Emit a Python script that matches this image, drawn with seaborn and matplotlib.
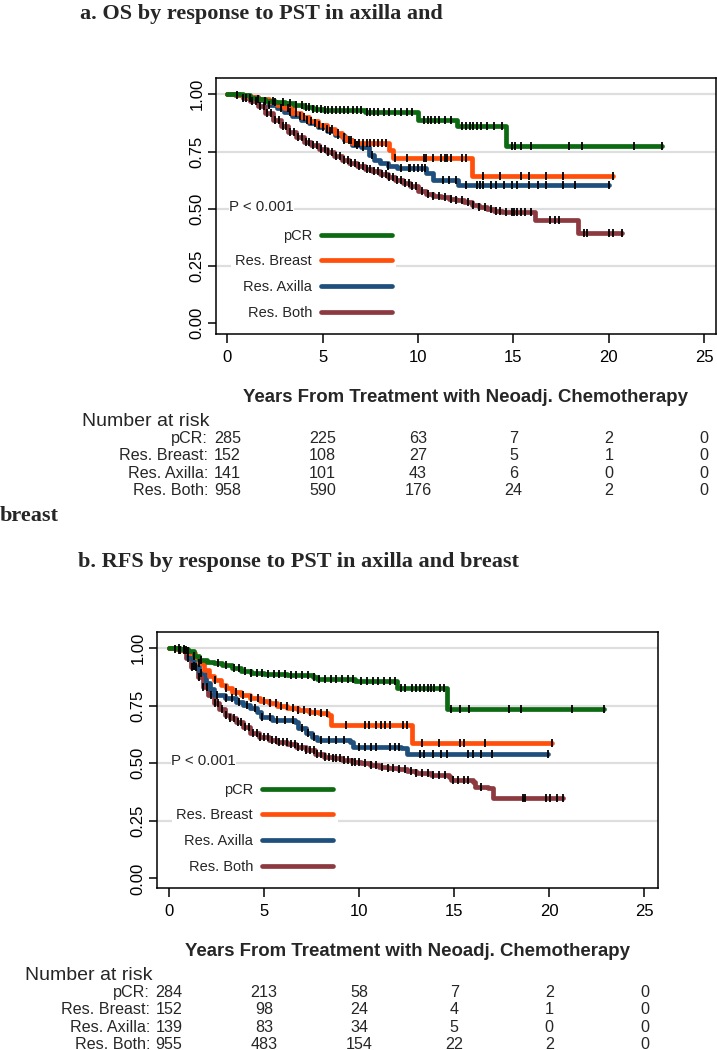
import numpy as np
import pandas as pd
import matplotlib
matplotlib.use("Agg")
import matplotlib.pyplot as plt
import seaborn as sns

groups = ["pCR", "Res. Breast", "Res. Axilla", "Res. Both"]
colors = ["#0b6a12", "#ff4f0a", "#1f4f7c", "#8c3a40"]
risk_years = [0, 5, 10, 15, 20, 25]

# ---- a. overall survival: step points (time, survival after step) ----
os_pcr_t = [0, 0.8, 1.2, 1.6, 2.0, 2.5, 3.0, 3.5, 4.0, 4.5, 5.0, 6.0, 7.2, 10.0, 12.05, 14.6, 22.8]
os_pcr_s = [1.0, 0.995, 0.985, 0.978, 0.972, 0.966, 0.96, 0.953, 0.945, 0.938, 0.933, 0.93, 0.925, 0.89, 0.86, 0.775, 0.775]
os_brs_t = [0, 0.6, 1.1, 1.6, 2.2, 2.6, 2.95, 3.4, 3.85, 4.3, 4.75, 5.2, 5.66, 6.0, 6.2, 6.56, 8.45, 8.7, 12.8, 20.2]
os_brs_s = [1.0, 0.995, 0.99, 0.98, 0.968, 0.955, 0.939, 0.92, 0.902, 0.884, 0.866, 0.848, 0.83, 0.812, 0.80, 0.789, 0.755, 0.72, 0.645, 0.645]
os_axl_t = [0, 0.6, 1.1, 1.6, 2.2, 2.6, 2.95, 3.4, 3.85, 4.3, 4.75, 5.2, 5.66, 6.1, 6.56, 7.0, 7.4, 7.7, 8.0, 8.4, 8.9, 10.44, 10.8, 12.07, 20.0]
os_axl_s = [1.0, 0.995, 0.988, 0.975, 0.955, 0.94, 0.924, 0.905, 0.888, 0.873, 0.859, 0.84, 0.822, 0.80, 0.779, 0.77, 0.735, 0.715, 0.699, 0.688, 0.677, 0.655, 0.626, 0.606, 0.606]
os_both_t = [0, 0.4, 0.8, 1.2, 1.6, 2.0, 2.4, 2.8, 3.2, 3.6, 4.0, 4.4, 4.8, 5.2, 5.6, 6.0, 6.4, 6.8, 7.2, 7.6, 8.0, 8.4, 8.8, 9.2, 9.6, 10.0, 10.4, 10.8, 11.2, 11.6, 12.0, 12.4, 12.8, 13.2, 13.6, 14.0, 14.4, 16.15, 18.4, 20.7]
os_both_s = [1.0, 0.995, 0.985, 0.972, 0.95, 0.92, 0.89, 0.862, 0.835, 0.812, 0.79, 0.777, 0.762, 0.747, 0.73, 0.714, 0.698, 0.685, 0.675, 0.664, 0.652, 0.64, 0.626, 0.613, 0.598, 0.578, 0.565, 0.557, 0.551, 0.544, 0.537, 0.528, 0.518, 0.508, 0.499, 0.492, 0.486, 0.451, 0.393, 0.393]

os_pcr_c = [1.2, 1.6, 2.0, 2.4, 2.9, 3.3, 3.6, 3.9, 4.1, 4.3, 4.5, 4.7, 4.9, 5.1, 5.3, 5.5, 5.7, 5.9, 6.1, 6.3, 6.6, 6.8, 7.0, 7.3, 7.5, 7.7, 7.9, 8.2, 8.5, 8.8, 9.1, 9.4, 9.7, 10.3, 10.5, 10.7, 10.9, 11.1, 11.4, 11.7, 12.3, 12.5, 12.7, 12.9, 13.1, 13.3, 13.6, 14.0, 14.4, 14.9, 15.1, 15.4, 15.9, 17.9, 18.6, 21.3, 22.8]
os_brs_c = [2.5, 3.2, 3.6, 4.0, 4.4, 4.8, 5.2, 5.5, 5.8, 6.1, 6.4, 6.7, 6.9, 7.1, 7.3, 7.5, 7.7, 7.9, 8.1, 8.3, 8.8, 9.4, 10.3, 10.4, 10.8, 11.2, 11.4, 11.5, 11.7, 12.3, 12.5, 13.4, 14.3, 15.4, 15.8, 16.7, 17.6, 20.2]
os_axl_c = [2.2, 2.8, 3.3, 3.8, 4.2, 4.6, 5.0, 5.4, 5.8, 6.1, 6.5, 6.8, 7.1, 7.6, 8.4, 9.1, 9.5, 9.6, 9.8, 10.0, 10.2, 10.35, 11.3, 11.6, 12.0, 12.5, 13.1, 13.25, 13.4, 13.8, 14.1, 14.5, 14.9, 15.2, 15.8, 16.3, 16.7, 17.6, 18.2, 20.0]
os_both_c = [0.5, 0.8, 1.0, 1.3, 1.5, 1.7, 1.9, 2.1, 2.3, 2.5, 2.7, 2.9, 3.1, 3.3, 3.5, 3.7, 3.9, 4.1, 4.3, 4.5, 4.7, 4.9, 5.1, 5.3, 5.5, 5.7, 5.9, 6.1, 6.3, 6.5, 6.7, 6.9, 7.1, 7.3, 7.5, 7.7, 7.9, 8.1, 8.3, 8.5, 8.7, 8.9, 9.1, 9.3, 9.5, 9.7, 9.9, 10.2, 10.5, 10.8, 11.1, 11.4, 11.7, 12.0, 12.3, 12.6, 12.9, 13.2, 13.5, 13.8, 14.1, 14.3, 14.6, 14.9, 15.05, 15.2, 15.4, 15.6, 15.9, 16.9, 17.2, 17.4, 18.7, 18.85, 20.0, 20.2, 20.7]

os_risk_pcr = [285, 225, 63, 7, 2, 0]
os_risk_brs = [152, 108, 27, 5, 1, 0]
os_risk_axl = [141, 101, 43, 6, 0, 0]
os_risk_both = [958, 590, 176, 24, 2, 0]

# ---- b. recurrence-free survival ----
rfs_pcr_t = [0, 0.6, 1.0, 1.3, 1.57, 2.0, 2.34, 2.8, 3.3, 3.8, 4.3, 5.0, 6.2, 7.57, 7.76, 9.8, 12.0, 14.63, 22.9]
rfs_pcr_s = [1.0, 0.995, 0.985, 0.965, 0.948, 0.94, 0.936, 0.925, 0.912, 0.902, 0.893, 0.888, 0.883, 0.876, 0.866, 0.856, 0.825, 0.734, 0.734]
rfs_brs_t = [0, 0.5, 1.0, 1.37, 1.6, 1.86, 2.1, 2.34, 2.73, 3.0, 3.31, 3.8, 4.28, 4.8, 5.25, 5.7, 6.21, 6.8, 7.37, 7.9, 8.34, 8.54, 12.79, 20.15]
rfs_brs_s = [1.0, 0.993, 0.98, 0.962, 0.935, 0.904, 0.88, 0.861, 0.839, 0.826, 0.81, 0.795, 0.782, 0.771, 0.76, 0.749, 0.738, 0.73, 0.723, 0.716, 0.709, 0.666, 0.589, 0.589]
rfs_axl_t = [0, 0.5, 0.99, 1.3, 1.57, 1.96, 2.15, 2.34, 2.92, 3.51, 3.9, 4.28, 4.6, 4.86, 5.44, 6.6, 6.8, 7.18, 7.5, 7.76, 9.5, 9.7, 12.2, 12.5, 19.95]
rfs_axl_s = [1.0, 0.99, 0.955, 0.92, 0.89, 0.847, 0.82, 0.796, 0.782, 0.767, 0.752, 0.738, 0.72, 0.702, 0.687, 0.68, 0.651, 0.63, 0.612, 0.60, 0.593, 0.571, 0.564, 0.54, 0.54]
rfs_both_t = [0, 0.3, 0.6, 0.9, 1.18, 1.5, 1.76, 2.05, 2.34, 2.62, 2.92, 3.2, 3.51, 3.9, 4.28, 4.75, 5.25, 5.7, 6.21, 6.7, 7.18, 7.65, 8.15, 8.6, 9.12, 9.6, 10.08, 10.55, 11.05, 11.5, 12.02, 12.5, 12.99, 13.8, 14.73, 14.83, 16.0, 16.08, 16.76, 17.05, 20.7]
rfs_both_s = [1.0, 0.997, 0.99, 0.955, 0.919, 0.872, 0.832, 0.795, 0.76, 0.733, 0.709, 0.694, 0.68, 0.655, 0.63, 0.615, 0.60, 0.592, 0.583, 0.57, 0.557, 0.542, 0.528, 0.521, 0.514, 0.506, 0.499, 0.492, 0.485, 0.479, 0.473, 0.465, 0.456, 0.449, 0.441, 0.427, 0.42, 0.398, 0.391, 0.347, 0.347]

rfs_pcr_c = [0.5, 0.8, 1.0, 1.3, 1.7, 2.6, 3.0, 3.4, 3.7, 4.0, 4.3, 4.6, 4.9, 5.2, 5.5, 5.8, 6.1, 6.4, 6.7, 7.0, 7.3, 7.6, 7.9, 8.2, 8.5, 8.8, 9.1, 9.4, 9.7, 10.1, 10.4, 10.7, 11.0, 11.3, 11.6, 11.9, 12.2, 12.4, 12.8, 13.0, 13.2, 13.4, 13.6, 13.8, 13.95, 14.25, 14.45, 14.85, 15.3, 15.8, 17.9, 18.5, 21.2, 22.9]
rfs_brs_c = [0.6, 1.0, 1.6, 2.4, 3.0, 3.5, 3.9, 4.3, 4.7, 5.0, 5.3, 5.6, 5.9, 6.2, 6.5, 6.8, 7.1, 7.4, 7.7, 8.0, 8.3, 9.3, 10.3, 10.5, 10.9, 11.15, 11.35, 11.6, 12.3, 12.5, 13.3, 14.2, 15.3, 15.5, 16.6, 20.15]
rfs_axl_c = [0.5, 0.9, 1.3, 1.7, 2.5, 3.0, 3.3, 3.7, 4.1, 4.5, 4.9, 5.3, 5.7, 6.1, 6.5, 7.0, 7.3, 7.6, 8.0, 8.4, 8.8, 9.2, 10.0, 10.3, 10.6, 10.9, 11.6, 11.9, 12.1, 13.2, 13.4, 13.9, 14.3, 14.6, 15.7, 16.0, 16.4, 17.0, 19.95]
rfs_both_c = [0.3, 0.6, 0.8, 1.0, 1.2, 1.4, 1.6, 1.8, 2.0, 2.2, 2.4, 2.6, 2.8, 3.0, 3.2, 3.4, 3.6, 3.8, 4.0, 4.2, 4.4, 4.6, 4.8, 5.0, 5.2, 5.4, 5.6, 5.8, 6.0, 6.2, 6.4, 6.6, 6.8, 7.0, 7.2, 7.4, 7.6, 7.8, 8.0, 8.2, 8.4, 8.6, 8.8, 9.0, 9.2, 9.4, 9.6, 9.8, 10.0, 10.3, 10.6, 10.9, 11.2, 11.5, 11.8, 12.1, 12.4, 12.7, 13.0, 13.3, 13.6, 13.9, 14.2, 14.5, 14.95, 15.2, 15.5, 15.7, 16.4, 18.6, 18.7, 19.85, 20.05, 20.4, 20.7]

rfs_risk_pcr = [284, 213, 58, 7, 2, 0]
rfs_risk_brs = [152, 98, 24, 4, 1, 0]
rfs_risk_axl = [139, 83, 34, 5, 0, 0]
rfs_risk_both = [955, 483, 154, 22, 2, 0]

os_curves = [(os_pcr_t, os_pcr_s, os_pcr_c), (os_brs_t, os_brs_s, os_brs_c),
             (os_axl_t, os_axl_s, os_axl_c), (os_both_t, os_both_s, os_both_c)]
rfs_curves = [(rfs_pcr_t, rfs_pcr_s, rfs_pcr_c), (rfs_brs_t, rfs_brs_s, rfs_brs_c),
              (rfs_axl_t, rfs_axl_s, rfs_axl_c), (rfs_both_t, rfs_both_s, rfs_both_c)]
os_risk = [os_risk_pcr, os_risk_brs, os_risk_axl, os_risk_both]
rfs_risk = [rfs_risk_pcr, rfs_risk_brs, rfs_risk_axl, rfs_risk_both]

sns.set_style("white")
plt.rcParams["font.family"] = ["Liberation Sans", "DejaVu Sans"]

fig = plt.figure(figsize=(7.17, 10.5), dpi=100)
W, H = 717, 1050


def px_axes(left, top, right, bottom):
    return fig.add_axes([left / W, 1 - bottom / H, (right - left) / W, (bottom - top) / H])


def draw_panel(ax, curves, risk, xlim, ylim):
    lines = {}
    for i in [3, 2, 1, 0]:
        t, s, c = curves[i]
        sns.lineplot(x=t, y=s, drawstyle="steps-post", estimator=None, sort=False,
                     color=colors[i], lw=3.4, ax=ax, label=groups[i])
        lines[i] = ax.get_lines()[-1]
        tt = np.asarray(t)
        ss = np.asarray(s)
        cy = ss[np.searchsorted(tt, c, side="right") - 1]
        ax.plot(c, cy, ls="none", marker="|", ms=5.8, mew=1.3, color="black", zorder=5)

    ax.set_xlim(*xlim)
    ax.set_ylim(*ylim)
    ax.set_xticks(risk_years)
    ax.set_yticks([0, 0.25, 0.5, 0.75, 1.0])
    ax.set_yticklabels(["0.00", "0.25", "0.50", "0.75", "1.00"], rotation=90, va="center")
    ax.tick_params(axis="x", direction="out", length=6.5, width=1.1, pad=5.0, labelsize=12,
                   bottom=True, colors="black")
    ax.tick_params(axis="y", direction="out", length=5.8, width=1.1, pad=2.0, labelsize=12,
                   left=True, colors="black")
    ax.yaxis.grid(True, color="#dedede", lw=1.6)
    ax.xaxis.grid(False)
    ax.yaxis.get_major_ticks()[0].gridline.set_visible(False)
    for sp in ax.spines.values():
        sp.set_visible(True)
        sp.set_color("black")
        sp.set_linewidth(1.1)

    ax.text(0.1, 0.51, "P < 0.001", fontsize=10.8, ha="left", va="center",
            bbox=dict(fc="white", ec="none", pad=0.3), zorder=6)
    leg = ax.legend([lines[i] for i in range(4)], groups, loc="center",
                    bbox_to_anchor=(0.196, 0.235), markerfirst=False, frameon=True,
                    facecolor="white", edgecolor="none", framealpha=1, fancybox=False,
                    fontsize=10.5, handlelength=4.9, handletextpad=0.6,
                    labelspacing=0.8, borderpad=0.3)
    leg.set_zorder(7)

    ax.set_xlabel("Years From Treatment with Neoadj. Chemotherapy", fontsize=13.4,
                  fontweight="bold", labelpad=17)
    ax.set_ylabel("")

    # number at risk table
    ax.annotate("Number at risk", xy=(-7.6, 0), xycoords=("data", "axes fraction"),
                xytext=(0, -87 * 0.72), textcoords="offset points",
                ha="left", va="center", fontsize=14, annotation_clip=False)
    for r, g in enumerate(groups):
        off = -(104.5 + 17.2 * r) * 0.72
        ax.annotate(g + ":", xy=(-1.0, 0), xycoords=("data", "axes fraction"),
                    xytext=(0, off), textcoords="offset points",
                    ha="right", va="center", fontsize=11.6, annotation_clip=False)
        for yr, n in zip(risk_years, risk[r]):
            ax.annotate(str(n), xy=(yr, 0), xycoords=("data", "axes fraction"),
                        xytext=(0, off), textcoords="offset points",
                        ha="center", va="center", fontsize=11.6, annotation_clip=False)


ax1 = px_axes(215.7, 78.3, 715.7, 334.3)
draw_panel(ax1, os_curves, os_risk, (-0.61, 25.6), (-0.048, 1.070))

ax2 = px_axes(156.7, 632.3, 657.7, 888.3)
draw_panel(ax2, rfs_curves, rfs_risk, (-0.65, 25.7), (-0.043, 1.068))

title_kw = dict(family=["Liberation Serif", "DejaVu Serif"], fontweight="bold",
                fontsize=16, ha="left", va="center")
fig.text(80 / W, 1 - 14 / H, "a. OS by response to PST in axilla and", **title_kw)
fig.text(0, 1 - 516 / H, "breast", **title_kw)
fig.text(78 / W, 1 - 562 / H, "b. RFS by response to PST in axilla and breast", **title_kw)

fig.savefig("out.png", dpi=100)
